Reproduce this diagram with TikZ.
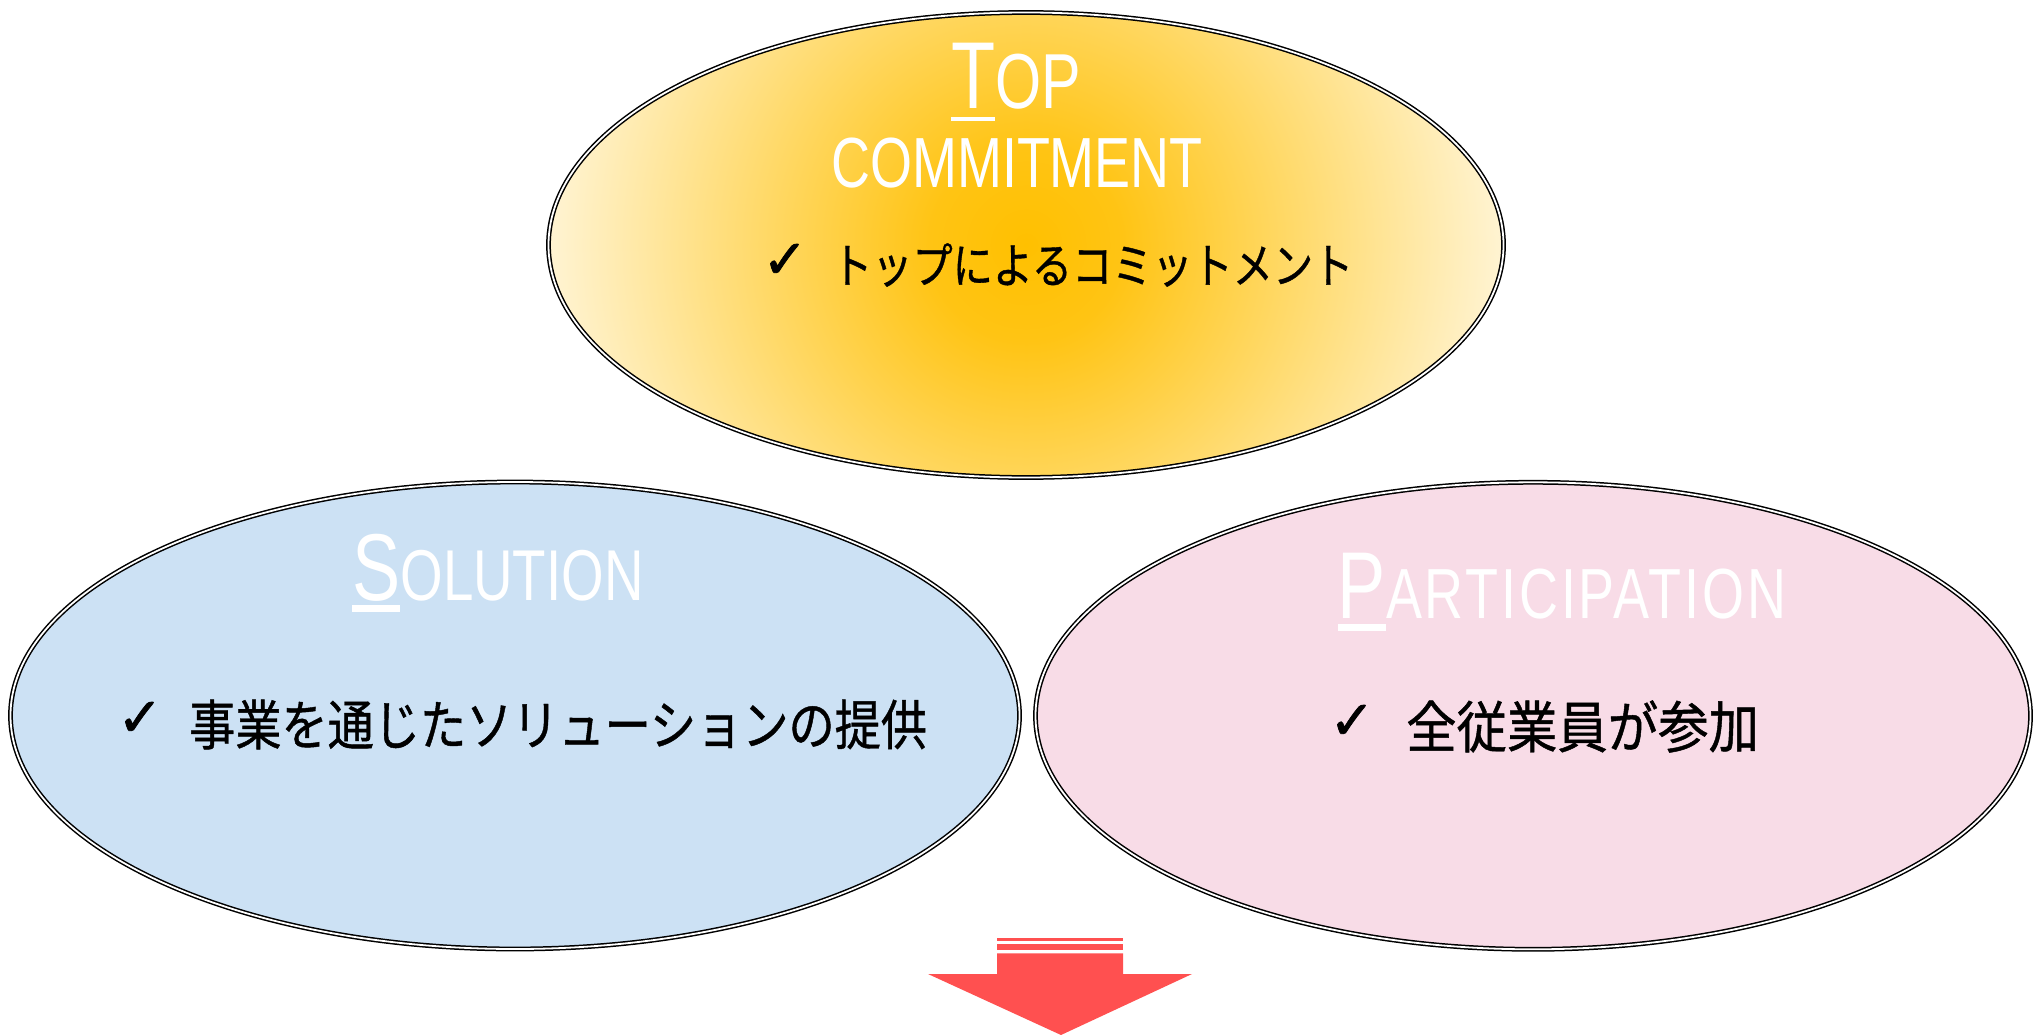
\documentclass[tikz,border=0pt]{standalone}
\usepackage{fontspec}
\usepackage{graphicx}
\usetikzlibrary{shapes.geometric}
\setmainfont{Liberation Sans}
\newfontfamily\condfont[FakeStretch=0.76]{Liberation Sans}
\newfontfamily\jpfont[FakeStretch=0.9,FakeBold=0.8]{Noto Sans CJK JP}
\newfontfamily\symfont[FakeBold=1.5]{DejaVu Sans}
\definecolor{goldA}{HTML}{FFC000}
\definecolor{goldB}{HTML}{FFC414}
\definecolor{goldC}{HTML}{FFF4D4}
\definecolor{solblue}{HTML}{CCE1F4}
\definecolor{parpink}{HTML}{F8DCE7}
\definecolor{arrowred}{HTML}{FF5050}
\pgfdeclareradialshading{topglow}{\pgfpoint{0bp}{0bp}}{color(0bp)=(goldA); color(5bp)=(goldB); color(25bp)=(goldC); color(50bp)=(goldC)}
\newsavebox\ulbox
\newcommand\ulletter[3]{\sbox\ulbox{#1}\rlap{\rule[#2]{\wd\ulbox}{#3}}\usebox\ulbox}
\tikzset{
  ellnode/.style={ellipse, draw=black, double=white, double distance=1.8pt, line width=1.5pt, inner sep=0pt},
  titletext/.style={text=white, inner sep=0pt, anchor=base, font=\condfont},
  checktext/.style={inner sep=0pt, anchor=center, font=\symfont\fontsize{54}{54}\selectfont},
  jptext/.style={inner sep=0pt, anchor=west},
}
\begin{document}
\begin{tikzpicture}[x=1pt,y=-1pt]
\useasboundingbox (0,0) rectangle (2034,1035);
% ellipses
\node[ellnode, minimum width=955pt, minimum height=465pt,
  path picture={\shade[shading=topglow] (path picture bounding box.center) circle [radius=480pt];}]
  (top) at (1026,245) {};
\node[ellnode, fill=solblue, minimum width=1009pt, minimum height=467pt] (sol) at (515,715.5) {};
\node[ellnode, fill=parpink, minimum width=995pt, minimum height=467pt] (par) at (1533,715.8) {};
% titles
\node[titletext] (toptitle) at (1016,109) {\fontsize{95}{95}\selectfont\ulletter{T}{-11.7pt}{4pt}\fontsize{78}{78}\selectfont OP};
\node[titletext] (commit) at (1017,188) {\fontsize{71}{71}\selectfont COMMITMENT};
\node[titletext] (soltitle) at (498,600) {\fontsize{95}{95}\selectfont\ulletter{S}{-11.7pt}{6.5pt}\fontsize{72}{72}\selectfont OLUTION};
\node[titletext] (partitle) at (1562,618) {\addfontfeature{LetterSpace=4}\fontsize{95}{95}\selectfont\ulletter{P}{-12.7pt}{6.5pt}\fontsize{71}{71}\selectfont ARTICIPATION};
% check lines
\node[checktext] (topcheck) at (785,261) {✓};
\node[jptext, font=\jpfont\fontsize{48}{48}\selectfont] (topjp) at (832,265) {\scalebox{0.93}[1]{トップによるコミットメント}};
\node[checktext] (solcheck) at (140,719) {✓};
\node[jptext, font=\jpfont\fontsize{54}{54}\selectfont] (soljp) at (189,724.5) {\scalebox{0.95}[1]{事業を通じたソリューションの提供}};
\node[checktext] (parcheck) at (1352,722) {✓};
\node[jptext, font=\jpfont\fontsize{56}{56}\selectfont] (parjp) at (1406,726.5) {全従業員が参加};
% arrow
\coordinate (arrtip) at (1061,1035);
\fill[arrowred] (997,937.7) rectangle (1123,940.7);
\fill[arrowred] (997,944) rectangle (1123,950);
\fill[arrowred] (997,953.3) -- (1123,953.3) -- (1123,974) -- (1192,974) -- (arrtip) -- (928,974) -- (997,974) -- cycle;
\end{tikzpicture}
\end{document}
